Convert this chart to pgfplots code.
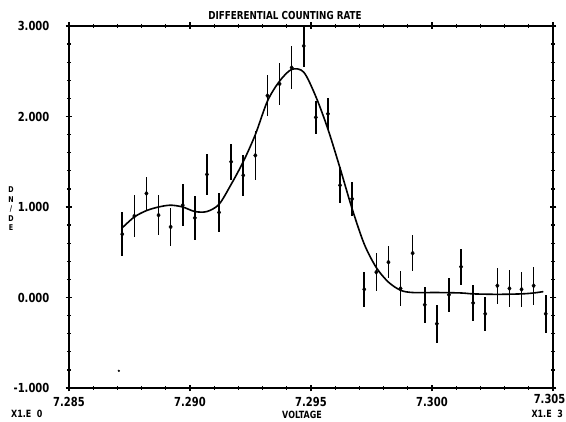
\documentclass[border=0pt]{standalone}
\usepackage{fontspec}
\setmainfont{DejaVu Sans}[FakeStretch=0.8]
\usepackage{pgfplots}
\usepackage{pgfplotstable}
\pgfplotsset{compat=1.18}
\usetikzlibrary{calc}

\pgfplotstableread{
x y e
7.2872 0.70 0.24
7.2877 0.90 0.23
7.2882 1.15 0.18
7.2887 0.91 0.22
7.2892 0.78 0.21
7.2897 1.02 0.23
7.2902 0.88 0.24
7.2907 1.36 0.23
7.2912 0.94 0.22
7.2917 1.50 0.20
7.2922 1.35 0.23
7.2927 1.57 0.27
7.2932 2.23 0.23
7.2937 2.36 0.23
7.2942 2.54 0.24
7.2947 2.78 0.23
7.2952 1.99 0.18
7.2957 2.03 0.17
7.2962 1.24 0.20
7.2967 1.09 0.19
7.2972 0.09 0.19
7.2977 0.28 0.21
7.2982 0.39 0.18
7.2987 0.10 0.19
7.2992 0.49 0.20
7.2997 -0.08 0.20
7.3002 -0.29 0.21
7.3007 0.03 0.19
7.3012 0.34 0.20
7.3017 -0.06 0.20
7.3022 -0.18 0.19
7.3027 0.13 0.20
7.3032 0.10 0.20
7.3037 0.09 0.19
7.3042 0.13 0.21
7.3047 -0.18 0.21
}\pts

\pgfplotstableread{
x y
7.2872 0.77
7.2877 0.89
7.2882 0.96
7.2887 1.00
7.2892 1.02
7.2897 1.00
7.2902 0.95
7.2907 0.95
7.2912 1.03
7.2917 1.25
7.2922 1.50
7.2927 1.80
7.2932 2.17
7.2937 2.39
7.2942 2.52
7.2947 2.49
7.2952 2.22
7.2957 1.86
7.2962 1.43
7.2967 0.98
7.2972 0.59
7.2977 0.33
7.2982 0.17
7.2987 0.08
7.2992 0.055
7.3002 0.055
7.3012 0.05
7.3017 0.04
7.3027 0.035
7.3037 0.04
7.3042 0.05
7.3046 0.065
}\curve

\begin{document}
\begin{tikzpicture}
\begin{axis}[name=ax, scale only axis, width=484bp, height=362bp,
  xmin=7.285, xmax=7.305, ymin=-1, ymax=3,
  xtick={7.285,7.29,7.295,7.3,7.305},
  xticklabels={7.285,7.290,7.295,7.300,{}},
  ytick={-1,0,1,2,3},
  yticklabels={-1.000,0.000,1.000,2.000,3.000},
  scaled x ticks=false, scaled y ticks=false,
  minor x tick num=4, minor y tick num=4,
  tick align=center,
  major tick length=7bp, minor tick length=4bp,
  every tick/.style={line width=1.3bp, black},
  axis line style={line width=2.2bp},
  tick label style={font=\bfseries\fontsize{12.5}{12.5}\selectfont},
  xticklabel style={inner sep=0pt, anchor=north, yshift=-6bp},
  yticklabel style={inner sep=0pt, anchor=east, xshift=-16bp},
  clip=false,
]
\addplot[smooth, line width=1.6bp, black] table[x=x, y=y] {\curve};
\addplot[only marks, black, mark=diamond*, mark size=2.3bp,
  error bars/.cd, y dir=both, y explicit, error mark=none,
  error bar style={line width=1.6bp, black}]
  table[x=x, y=y, y error=e] {\pts};
\addplot[only marks, black, mark=*, mark size=0.9bp] coordinates {(7.28706,-0.81)};
\end{axis}
\node[anchor=north east, inner sep=0pt, font=\bfseries\fontsize{12.5}{12.5}\selectfont]
  at ($(ax.south east)+(12.5bp,-6bp)$) {7.305};
\node[anchor=south, inner sep=0pt, font=\bfseries\fontsize{11}{11}\selectfont]
  at ($(ax.north west)+(216bp,6bp)$) {DIFFERENTIAL COUNTING RATE};
\node[anchor=north, inner sep=0pt, font=\bfseries\fontsize{10}{10}\selectfont]
  at ($(ax.south west)+(233bp,-23bp)$) {VOLTAGE};
\node[anchor=north west, inner sep=0pt, font=\bfseries\fontsize{10}{10}\selectfont]
  at ($(ax.south west)+(-58bp,-22bp)$) {X1.E\ \ 0};
\node[anchor=north east, inner sep=0pt, font=\bfseries\fontsize{10}{10}\selectfont]
  at ($(ax.south east)+(10bp,-22bp)$) {X1.E\ \ 3};
\node[anchor=center, inner sep=0pt, align=center, font=\bfseries\fontsize{8}{9.5}\selectfont]
  at ($(ax.south west)+(-58bp,179bp)$) {D\\N\\/\\D\\E};
\pgfresetboundingbox
\path[use as bounding box] ($(ax.south west)+(-69bp,-34bp)$) rectangle ($(ax.north east)+(13bp,26bp)$);
\end{tikzpicture}
\end{document}
